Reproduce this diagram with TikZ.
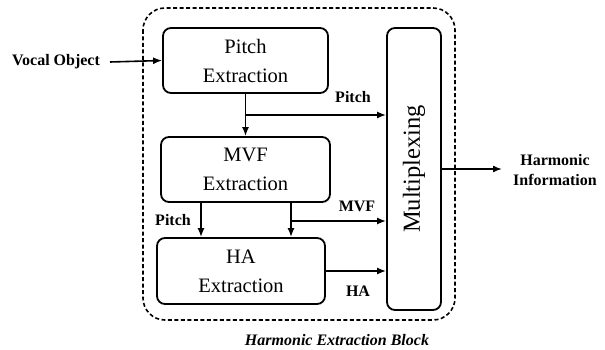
\documentclass[tikz,border=0pt]{standalone}
\usepackage{fontspec}
\setmainfont{Liberation Serif}
\usetikzlibrary{arrows.meta}
\tikzset{
  blk/.style={draw, line width=1.8pt, rounded corners=8pt, align=center, inner sep=0pt,
    font=\fontsize{20.5}{29}\selectfont},
  arr/.style={line width=1.6pt, -{Latex[length=9pt,width=7pt]}},
  lbl/.style={font=\fontsize{16}{20}\selectfont\bfseries, inner sep=0pt, align=center},
}
\begin{document}
\begin{tikzpicture}[x=1pt,y=-1pt]
\useasboundingbox (0,0) rectangle (605,350);
\draw[line width=1.6pt, dash pattern=on 4pt off 2.5pt, rounded corners=22pt] (143,8) rectangle (455,320);
\node[blk, minimum width=165pt, minimum height=65pt] (pitch) at (245.5,60.5) {Pitch\\Extraction};
\node[blk, minimum width=169pt, minimum height=65pt] (mvf) at (245.5,169.5) {MVF\\Extraction};
\node[blk, minimum width=168pt, minimum height=66pt] (ha) at (241,271) {HA\\Extraction};
\node[blk, minimum width=54pt, minimum height=282pt] (mux) at (414,169) {};
\node[rotate=90, font=\fontsize{24.5}{28}\selectfont] (muxt) at (mux.center) {Multiplexing};
\node[lbl] (vocal) at (56,62) {Vocal Object};
\coordinate (vs) at (110,62);
\draw[arr] (vs) -- (pitch.west);
\draw[arr] (pitch.south) -- (mvf.north);
\coordinate (pb) at (245.5,115);
\draw[arr] (pb) -- (pb -| mux.west);
\node[lbl] (lp1) at (353,97) {Pitch};
\coordinate (x1) at (201,0);
\coordinate (x2) at (291,0);
\draw[arr] (mvf.south -| x1) -- (ha.north -| x1);
\draw[arr] (mvf.south -| x2) -- (ha.north -| x2);
\coordinate (mb) at (291,221);
\draw[arr] (mb) -- (mb -| mux.west);
\node[lbl] (lp2) at (173,220) {Pitch};
\node[lbl] (lm) at (357,206) {MVF};
\draw[arr] (ha.east) -- (ha.east -| mux.west);
\node[lbl] (lh) at (358,291) {HA};
\coordinate (out) at (502,169);
\draw[arr] (mux.east) -- (out);
\node[lbl] (hi) at (555,170.5) {Harmonic\\Information};
\node[font=\fontsize{16}{20}\selectfont\bfseries\itshape] (title) at (337,340) {Harmonic Extraction Block};
\end{tikzpicture}
\end{document}
